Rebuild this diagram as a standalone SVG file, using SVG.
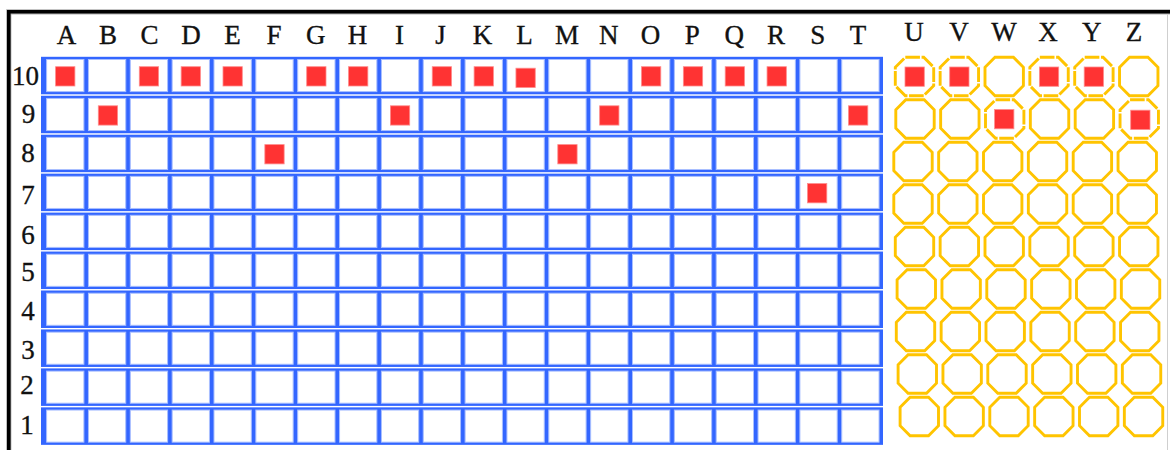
<svg xmlns="http://www.w3.org/2000/svg" xmlns:xlink="http://www.w3.org/1999/xlink" width="1170" height="450" viewBox="0 0 1170 450">
<style>
.lbl{font-family:"Liberation Serif","Times New Roman",serif;font-size:27px;fill:#111;stroke:#111;stroke-width:0.35;text-anchor:middle}
.red{fill:#ff3333;stroke:#ff8c8c;stroke-width:0.8}
.cell{fill:#fff;stroke:#a9bfff;stroke-width:1}
.oct{fill:none;stroke:#ffc400;stroke-width:2.9}
.octd{fill:none;stroke:#ffc400;stroke-width:2.9;stroke-dasharray:9 1}
</style>
<defs>
<g id="row">
<rect x="41" y="0" width="842" height="37.5" fill="#3366ff"/>
<rect class="cell" x="46.6" y="2.7" width="37.3" height="32.1"/>
<rect class="cell" x="88.45" y="2.7" width="37.3" height="32.1"/>
<rect class="cell" x="130.3" y="2.7" width="37.3" height="32.1"/>
<rect class="cell" x="172.15" y="2.7" width="37.3" height="32.1"/>
<rect class="cell" x="214" y="2.7" width="37.3" height="32.1"/>
<rect class="cell" x="255.85" y="2.7" width="37.3" height="32.1"/>
<rect class="cell" x="297.7" y="2.7" width="37.3" height="32.1"/>
<rect class="cell" x="339.55" y="2.7" width="37.3" height="32.1"/>
<rect class="cell" x="381.4" y="2.7" width="37.3" height="32.1"/>
<rect class="cell" x="423.25" y="2.7" width="37.3" height="32.1"/>
<rect class="cell" x="465.1" y="2.7" width="37.3" height="32.1"/>
<rect class="cell" x="506.95" y="2.7" width="37.3" height="32.1"/>
<rect class="cell" x="548.8" y="2.7" width="37.3" height="32.1"/>
<rect class="cell" x="590.65" y="2.7" width="37.3" height="32.1"/>
<rect class="cell" x="632.5" y="2.7" width="37.3" height="32.1"/>
<rect class="cell" x="674.35" y="2.7" width="37.3" height="32.1"/>
<rect class="cell" x="716.2" y="2.7" width="37.3" height="32.1"/>
<rect class="cell" x="758.05" y="2.7" width="37.3" height="32.1"/>
<rect class="cell" x="799.9" y="2.7" width="37.3" height="32.1"/>
<rect class="cell" x="841.75" y="2.7" width="37.3" height="32.1"/>
</g>
<path id="oct" class="oct" d="M-9.2,-19.2 L9.2,-19.2 L19.2,-9.2 L19.2,9.2 L9.2,19.2 L-9.2,19.2 L-19.2,9.2 L-19.2,-9.2 Z"/>
<path id="octd" class="octd" pathLength="80" d="M-9.2,-19.2 L9.2,-19.2 L19.2,-9.2 L19.2,9.2 L9.2,19.2 L-9.2,19.2 L-19.2,9.2 L-19.2,-9.2 Z"/>
</defs>

<g id="frame">
<path d="M8.8,450 V11.8 H1170" fill="none" stroke="#b0b0b0" stroke-width="5.2"/>
<path d="M8.8,450 V11.8 H1170" fill="none" stroke="#000" stroke-width="3.6"/>
<line x1="1167.5" y1="14" x2="1167.5" y2="450" stroke="#cfcfcf" stroke-width="1"/>
</g>

<g id="col-labels">
<text class="lbl" x="66.5" y="43.5">A</text>
<text class="lbl" x="108" y="43.5">B</text>
<text class="lbl" x="149.5" y="43.5">C</text>
<text class="lbl" x="191" y="43.5">D</text>
<text class="lbl" x="232.6" y="43.5">E</text>
<text class="lbl" x="274" y="43.5">F</text>
<text class="lbl" x="315.8" y="43.5">G</text>
<text class="lbl" x="357.6" y="43.5">H</text>
<text class="lbl" x="399.5" y="43.5">I</text>
<text class="lbl" x="440.5" y="43.5">J</text>
<text class="lbl" x="482.5" y="43.5">K</text>
<text class="lbl" x="524.5" y="43.5">L</text>
<text class="lbl" x="567" y="43.5">M</text>
<text class="lbl" x="608.8" y="43.5">N</text>
<text class="lbl" x="650.5" y="43.5">O</text>
<text class="lbl" x="692.3" y="43.5">P</text>
<text class="lbl" x="734.2" y="43.5">Q</text>
<text class="lbl" x="776" y="43.5">R</text>
<text class="lbl" x="817.8" y="43.5">S</text>
<text class="lbl" x="858" y="43.5">T</text>
<text class="lbl" x="914" y="41">U</text>
<text class="lbl" x="959" y="41">V</text>
<text class="lbl" x="1004" y="41">W</text>
<text class="lbl" x="1048" y="41">X</text>
<text class="lbl" x="1091.7" y="41">Y</text>
<text class="lbl" x="1134" y="41">Z</text>
</g>

<g id="row-labels">
<text class="lbl" x="25.5" y="85">10</text>
<text class="lbl" x="28.5" y="123">9</text>
<text class="lbl" x="28" y="162">8</text>
<text class="lbl" x="28" y="204">7</text>
<text class="lbl" x="28" y="244">6</text>
<text class="lbl" x="28" y="281">5</text>
<text class="lbl" x="28" y="320">4</text>
<text class="lbl" x="28" y="358.5">3</text>
<text class="lbl" x="27" y="393.5">2</text>
<text class="lbl" x="27" y="433.5">1</text>
</g>

<g id="grid">
<use xlink:href="#row" href="#row" y="56.8"/>
<use xlink:href="#row" href="#row" y="95.75"/>
<use xlink:href="#row" href="#row" y="134.7"/>
<use xlink:href="#row" href="#row" y="173.65"/>
<use xlink:href="#row" href="#row" y="212.6"/>
<use xlink:href="#row" href="#row" y="251.55"/>
<use xlink:href="#row" href="#row" y="290.5"/>
<use xlink:href="#row" href="#row" y="329.45"/>
<use xlink:href="#row" href="#row" y="368.4"/>
<use xlink:href="#row" href="#row" y="407.35"/>
</g>

<g id="grid-marks">
<rect class="red" x="55.6" y="66.7" width="19.3" height="19.3"/>
<rect class="red" x="139.3" y="66.7" width="19.3" height="19.3"/>
<rect class="red" x="181.15" y="66.7" width="19.3" height="19.3"/>
<rect class="red" x="223" y="66.7" width="19.3" height="19.3"/>
<rect class="red" x="306.7" y="66.7" width="19.3" height="19.3"/>
<rect class="red" x="348.55" y="66.7" width="19.3" height="19.3"/>
<rect class="red" x="432.25" y="66.7" width="19.3" height="19.3"/>
<rect class="red" x="474.1" y="66.7" width="19.3" height="19.3"/>
<rect class="red" x="515.95" y="68.2" width="19.3" height="19.3"/>
<rect class="red" x="641.5" y="66.7" width="19.3" height="19.3"/>
<rect class="red" x="683.35" y="66.7" width="19.3" height="19.3"/>
<rect class="red" x="725.2" y="66.7" width="19.3" height="19.3"/>
<rect class="red" x="767.05" y="66.7" width="19.3" height="19.3"/>
<rect class="red" x="98.3" y="105.8" width="19.3" height="19.3"/>
<rect class="red" x="390.4" y="105.8" width="19.3" height="19.3"/>
<rect class="red" x="599.65" y="105.8" width="19.3" height="19.3"/>
<rect class="red" x="848.5" y="105.8" width="19.3" height="19.3"/>
<rect class="red" x="264.85" y="144.6" width="19.3" height="19.3"/>
<rect class="red" x="557.8" y="144.6" width="19.3" height="19.3"/>
<rect class="red" x="807.5" y="183.55" width="19.3" height="19.3"/>
</g>

<g id="octagons">
<g id="oct-row-10">
<use xlink:href="#octd" href="#octd" x="914.5" y="76.5"/>
<use xlink:href="#octd" href="#octd" x="959.35" y="76.5"/>
<use xlink:href="#oct" href="#oct" x="1004.2" y="76.5"/>
<use xlink:href="#octd" href="#octd" x="1049.05" y="76.5"/>
<use xlink:href="#octd" href="#octd" x="1093.9" y="76.5"/>
<use xlink:href="#oct" href="#oct" x="1138.75" y="76.5"/>
</g>
<g id="oct-row-9">
<use xlink:href="#oct" href="#oct" x="915" y="119"/>
<use xlink:href="#oct" href="#oct" x="959.85" y="119"/>
<use xlink:href="#octd" href="#octd" x="1004.7" y="119"/>
<use xlink:href="#oct" href="#oct" x="1049.55" y="119"/>
<use xlink:href="#oct" href="#oct" x="1094.4" y="119"/>
<use xlink:href="#octd" href="#octd" x="1139.25" y="119"/>
</g>
<g id="oct-row-8">
<use xlink:href="#oct" href="#oct" x="913" y="161.5"/>
<use xlink:href="#oct" href="#oct" x="957.85" y="161.5"/>
<use xlink:href="#oct" href="#oct" x="1002.7" y="161.5"/>
<use xlink:href="#oct" href="#oct" x="1047.55" y="161.5"/>
<use xlink:href="#oct" href="#oct" x="1092.4" y="161.5"/>
<use xlink:href="#oct" href="#oct" x="1137.25" y="161.5"/>
</g>
<g id="oct-row-7">
<use xlink:href="#oct" href="#oct" x="913" y="204"/>
<use xlink:href="#oct" href="#oct" x="957.85" y="204"/>
<use xlink:href="#oct" href="#oct" x="1002.7" y="204"/>
<use xlink:href="#oct" href="#oct" x="1047.55" y="204"/>
<use xlink:href="#oct" href="#oct" x="1092.4" y="204"/>
<use xlink:href="#oct" href="#oct" x="1137.25" y="204"/>
</g>
<g id="oct-row-6">
<use xlink:href="#oct" href="#oct" x="914.5" y="246.5"/>
<use xlink:href="#oct" href="#oct" x="959.35" y="246.5"/>
<use xlink:href="#oct" href="#oct" x="1004.2" y="246.5"/>
<use xlink:href="#oct" href="#oct" x="1049.05" y="246.5"/>
<use xlink:href="#oct" href="#oct" x="1093.9" y="246.5"/>
<use xlink:href="#oct" href="#oct" x="1138.75" y="246.5"/>
</g>
<g id="oct-row-5">
<use xlink:href="#oct" href="#oct" x="916.3" y="289"/>
<use xlink:href="#oct" href="#oct" x="961.15" y="289"/>
<use xlink:href="#oct" href="#oct" x="1006" y="289"/>
<use xlink:href="#oct" href="#oct" x="1050.85" y="289"/>
<use xlink:href="#oct" href="#oct" x="1095.7" y="289"/>
<use xlink:href="#oct" href="#oct" x="1140.55" y="289"/>
</g>
<g id="oct-row-4">
<use xlink:href="#oct" href="#oct" x="915.5" y="331.5"/>
<use xlink:href="#oct" href="#oct" x="960.35" y="331.5"/>
<use xlink:href="#oct" href="#oct" x="1005.2" y="331.5"/>
<use xlink:href="#oct" href="#oct" x="1050.05" y="331.5"/>
<use xlink:href="#oct" href="#oct" x="1094.9" y="331.5"/>
<use xlink:href="#oct" href="#oct" x="1139.75" y="331.5"/>
</g>
<g id="oct-row-3">
<use xlink:href="#oct" href="#oct" x="917.3" y="374"/>
<use xlink:href="#oct" href="#oct" x="962.15" y="374"/>
<use xlink:href="#oct" href="#oct" x="1007" y="374"/>
<use xlink:href="#oct" href="#oct" x="1051.85" y="374"/>
<use xlink:href="#oct" href="#oct" x="1096.7" y="374"/>
<use xlink:href="#oct" href="#oct" x="1141.55" y="374"/>
</g>
<g id="oct-row-2">
<use xlink:href="#oct" href="#oct" x="919.3" y="416.5"/>
<use xlink:href="#oct" href="#oct" x="964.15" y="416.5"/>
<use xlink:href="#oct" href="#oct" x="1009" y="416.5"/>
<use xlink:href="#oct" href="#oct" x="1053.85" y="416.5"/>
<use xlink:href="#oct" href="#oct" x="1098.7" y="416.5"/>
<use xlink:href="#oct" href="#oct" x="1143.55" y="416.5"/>
</g>
</g>

<g id="octagon-marks">
<rect class="red" x="905" y="67" width="19.3" height="19.3"/>
<rect class="red" x="949.7" y="67" width="19.3" height="19.3"/>
<rect class="red" x="1039.4" y="67" width="19.3" height="19.3"/>
<rect class="red" x="1084.2" y="67" width="19.3" height="19.3"/>
<rect class="red" x="994.6" y="109.5" width="19.3" height="19.3"/>
<rect class="red" x="1130.7" y="110.2" width="19.3" height="19.3"/>
</g>
</svg>
